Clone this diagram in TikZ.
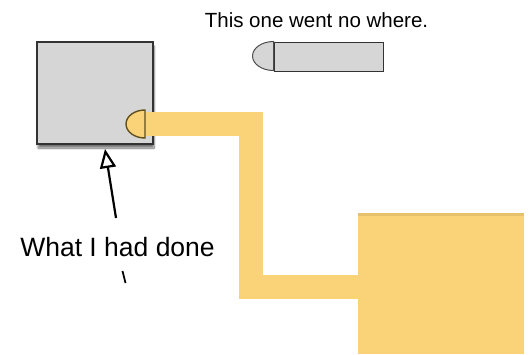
\documentclass[tikz,border=0pt]{standalone}
\usepackage{fontspec}
\setmainfont{Liberation Sans}
\usepackage{tikz}
\usetikzlibrary{arrows.meta}
\usetikzlibrary{shadows.blur}
\usetikzlibrary{calc}

\definecolor{wire}{RGB}{250,211,120}
\definecolor{boxgray}{RGB}{214,214,214}
\definecolor{portline}{RGB}{95,80,30}

\begin{document}
\begin{tikzpicture}[x=1pt, y=-1pt,
  block/.style={draw=black!80, fill=boxgray, line width=1.2pt, inner sep=0pt},
  band/.style={draw=wire, line width=24pt, line join=miter},
  lbl/.style={inner sep=0pt, anchor=base}]
  \useasboundingbox (0,0) rectangle (529,354);

  % the block and its port
  \node[block, minimum width=116pt, minimum height=102pt,
        blur shadow={shadow xshift=1pt, shadow yshift=-4pt, shadow blur steps=8, shadow opacity=55}]
        (box) at (95,93) {};
  \node[fill=wire, inner sep=0pt, minimum width=166pt, minimum height=141pt] (sink) at (441,283.5) {};
  \fill[wire!92!black] (sink.north west) rectangle ($(sink.north east)+(0,3)$);

  \coordinate (port) at (145,124);
  \coordinate (bend) at (250.5,286.5);
  \draw[band] (port) -| (bend) -- (sink.west |- bend);
  \draw[fill=wire, draw=portline, line width=1.4pt] (145,110)
    arc[start angle=-90, end angle=-270, x radius=19, y radius=14] -- cycle;

  % the one left over
  \node[block, line width=1pt, minimum width=109pt, minimum height=29pt] (loose) at (328.5,56.5) {};
  \draw[fill=boxgray, draw=black!70, line width=1pt] (loose.north west)
    arc[start angle=-90, end angle=-270, x radius=21, y radius=14.5] -- cycle;
  \node[lbl, font=\fontsize{20.5}{23}\selectfont] (title) at (316.5,27) {This one went no where.};

  % the note
  \node[lbl, font=\fontsize{26.5}{30}\selectfont] (done) at (117.5,256) {What I had done};
  \coordinate (tail) at (116,218);
  \coordinate (tip) at (105,149);
  \draw[line width=2.2pt, -{Triangle[open, length=19pt, width=16pt, line width=2.2pt]}] (tail) -- (tip);
  \draw[line width=1.8pt] (122.5,271) -- (125.5,283);
\end{tikzpicture}
\end{document}
